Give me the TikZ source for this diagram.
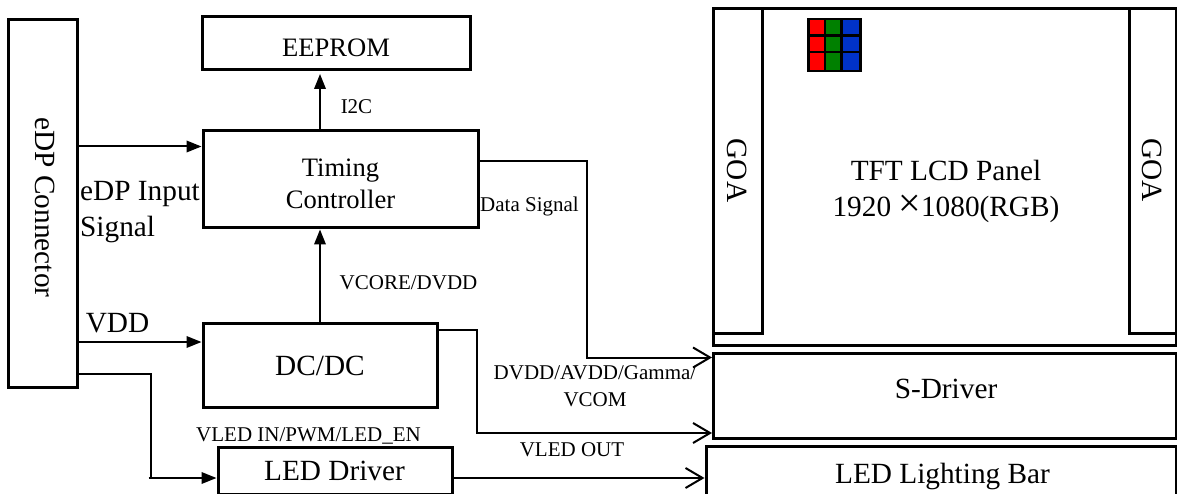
\documentclass[tikz,border=0pt]{standalone}
\usepackage{fontspec}
\setmainfont{Liberation Serif}
\usetikzlibrary{arrows.meta}
\definecolor{pxred}{RGB}{255,0,0}
\definecolor{pxgreen}{RGB}{0,128,0}
\definecolor{pxblue}{RGB}{0,50,200}
\tikzset{
  x=1pt,y=-1pt,
  blk/.style={draw=black,line width=3pt,fill=white,inner sep=0pt},
  wire/.style={draw=black,line width=2pt},
  fillarrow/.style={wire,-{Triangle[length=15pt,width=11.5pt]}},
  openarrow/.style={wire,-{Straight Barb[length=17pt,width=20pt,line width=2pt]}},
  lbl/.style={inner sep=0pt,align=center,text=black,anchor=base},
  big/.style={lbl,font=\fontsize{29.3}{36}\selectfont},
  mid/.style={lbl,font=\fontsize{26.6}{32}\selectfont},
  small/.style={lbl,font=\fontsize{21}{27}\selectfont},
  cell/.style={draw=black,line width=2.4pt,minimum width=19pt,minimum height=19pt,inner sep=0pt}
}
\begin{document}
\begin{tikzpicture}
\useasboundingbox (0,0) rectangle (1177,494);
\clip (0,0) rectangle (1177,494);
% boxes
\node[blk,minimum width=69.5pt,minimum height=367.5pt] (edp) at (42.75,203.25) {};
\node[big,rotate=-90] (edpt) at (35,207.5) {eDP Connector};
\node[blk,minimum width=267.5pt,minimum height=53pt] (eeprom) at (336.25,43) {};
\node[mid] (eepromt) at (336,57) {EEPROM};
\node[blk,minimum width=275pt,minimum height=97pt] (tcon) at (340.5,179.5) {};
\node[mid] (tcont) at (340.5,209) {Timing\\Controller};
\node[blk,minimum width=234.5pt,minimum height=83.5pt] (dcdc) at (320.25,365.25) {};
\node[big] (dcdct) at (320,375) {DC/DC};
\node[blk,minimum width=234pt,minimum height=47.5pt] (led) at (335,470.75) {};
\node[big] (ledt) at (334.5,480) {LED Driver};
\node[blk,minimum width=463pt,minimum height=337pt] (panel) at (945,177) {};
\node[blk,minimum width=49pt,minimum height=325pt] (goal) at (738,171) {};
\node[blk,minimum width=47pt,minimum height=325pt] (goar) at (1153,171) {};
\node[big,rotate=-90] (goalt) at (727,170.5) {GOA};
\node[big,rotate=-90] (goart) at (1142,170) {GOA};
\node[big] (panelt) at (946,217) {TFT LCD Panel\\1920 {\fontsize{40}{36}\selectfont ×}1080(RGB)};
\node[blk,minimum width=463pt,minimum height=84.5pt] (sdrv) at (945,395.75) {};
\node[big] (sdrvt) at (946,398) {S-Driver};
\node[blk,minimum width=470.5pt,minimum height=53.5pt] (bar) at (941.25,473.25) {};
\node[big] (bart) at (942.5,483) {LED Lighting Bar};
% pixel grid
\foreach \c/\x in {pxred/817.8,pxgreen/834.3,pxblue/851}
  \foreach \y in {28.7,45,61.8}
    \node[cell,fill=\c] at (\x,\y) {};
% connectors
\coordinate (edpin) at (75,146.5);
\draw[fillarrow] (edp.east |- edpin) -- (tcon.west |- edpin);
\coordinate (vddy) at (75,342);
\draw[fillarrow] (edp.east |- vddy) -- (dcdc.west |- vddy);
\coordinate (k1) at (150.5,374);
\coordinate (k2) at (150.5,478);
\coordinate (k3) at (148.5,478);
\draw[wire] (edp.east |- k1) -- (k1) -- (k2);
\draw[fillarrow] (k3) -- (led.west |- k3);
\coordinate (xv) at (320,100);
\coordinate (tipee) at (320,74);
\draw[fillarrow] (xv |- tcon.north) -- (tipee);
\draw[fillarrow] (xv |- dcdc.north) -- (xv |- tcon.south);
\coordinate (d1) at (587,161.5);
\coordinate (d2) at (587,357.5);
\draw[openarrow] (tcon.east |- d1) -- (d1) -- (d2) -- (sdrv.west |- d2);
\coordinate (p1) at (477,329.5);
\coordinate (p2) at (477,433);
\draw[openarrow] (dcdc.east |- p1) -- (p1) -- (p2) -- (sdrv.west |- p2);
\coordinate (b1) at (451,478);
\draw[openarrow] (led.east |- b1) -- (bar.west |- b1);
% labels
\node[small] (i2c) at (356.5,114) {I2C};
\node[big,align=left] (inp) at (140,237) {eDP Input\\Signal};
\node[big] (vdd) at (117.5,332) {VDD};
\node[small] (ds) at (529.5,212) {Data Signal};
\node[small] (vc) at (408.5,289) {VCORE/DVDD};
\node[small] (dv) at (595,406) {DVDD/AVDD/Gamma/\\VCOM};
\node[small] (vo) at (572,456) {VLED OUT};
\node[small] (vi) at (308.5,441) {VLED IN/PWM/LED\_EN};
\end{tikzpicture}
\end{document}
